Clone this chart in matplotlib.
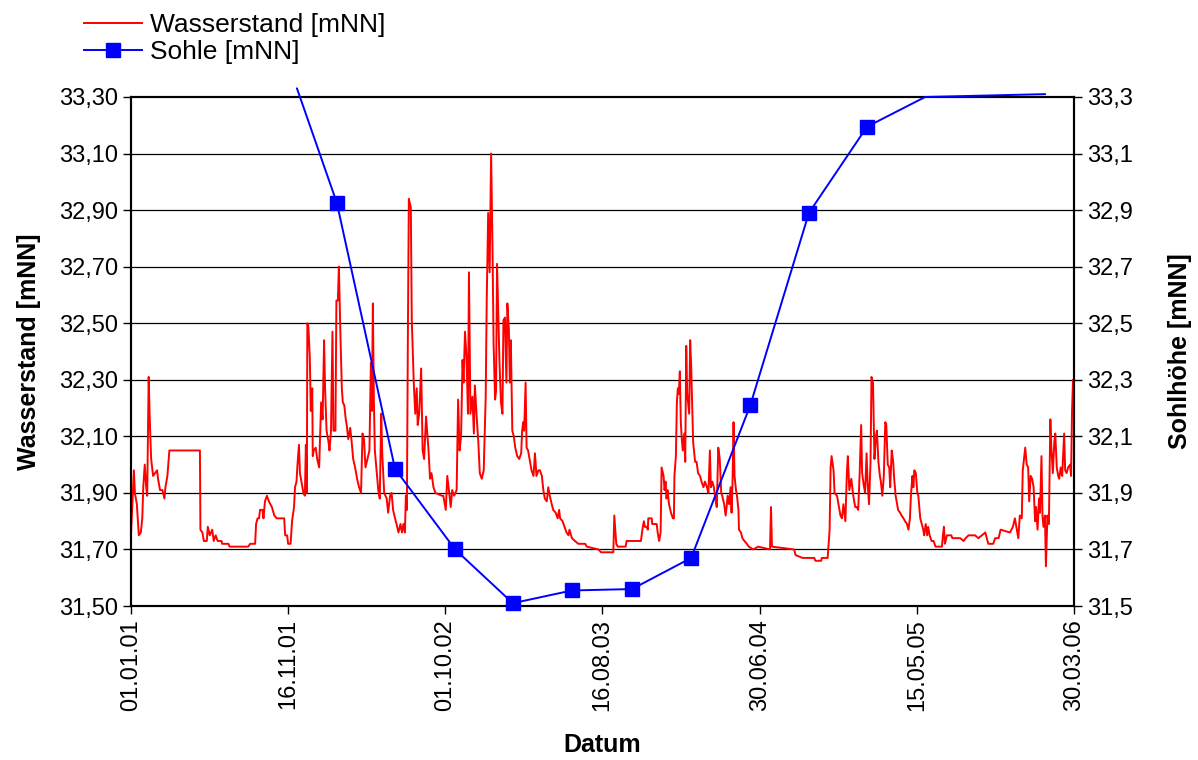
import numpy as np
import pandas as pd
import matplotlib.pyplot as plt
from matplotlib.ticker import FuncFormatter
import matplotlib.dates as mdates
plt.switch_backend('agg')

plt.rcParams['font.family'] = ['Liberation Sans', 'DejaVu Sans']

# Tage ab 01.01.2001
start = pd.Timestamp('2001-01-01')
ende = pd.Timestamp('2006-03-30')

# Wasserstand [mNN]
tage = [0, 6, 8, 12, 16, 20, 23, 25, 28, 31, 33, 36, 38, 41, 45, 49, 53, 55, 59, 64,
        68, 70, 74, 78, 140, 141, 145, 148, 154, 156, 160, 165, 168, 172, 176, 184, 185, 198, 200, 238,
        242, 252, 254, 257, 260, 262, 267, 269, 272, 276, 280, 286, 291, 296, 311, 313, 317, 319, 324, 327,
        331, 333, 336, 338, 341, 343, 347, 350, 353, 355, 357, 358, 360, 363, 365, 368, 369, 371, 375, 378,
        382, 386, 389, 392, 394, 397, 401, 403, 406, 409, 411, 415, 417, 420, 422, 425, 428, 430, 433, 436,
        438, 441, 445, 448, 451, 455, 459, 463, 467, 470, 473, 476, 480, 484, 487, 489, 491, 493, 495, 499,
        502, 505, 508, 510, 514, 519, 522, 526, 529, 532, 536, 539, 543, 547, 550, 553, 556, 558, 560, 562,
        564, 568, 570, 574, 577, 580, 582, 585, 589, 592, 595, 599, 604, 607, 610, 614, 618, 631, 634, 639,
        642, 646, 649, 652, 656, 661, 664, 667, 670, 673, 675, 678, 681, 684, 686, 689, 693, 696, 698, 702,
        705, 708, 712, 716, 720, 722, 725, 728, 731, 734, 736, 739, 741, 743, 746, 748, 751, 754, 756, 759,
        762, 764, 767, 769, 771, 774, 777, 780, 784, 788, 792, 794, 796, 798, 801, 803, 806, 810, 813, 817,
        820, 823, 827, 830, 834, 837, 840, 844, 847, 850, 854, 857, 862, 866, 869, 871, 876, 880, 884, 888,
        890, 895, 901, 908, 922, 925, 949, 954, 979, 981, 985, 988, 1004, 1006, 1035, 1038, 1041, 1043, 1047, 1049,
        1050, 1057, 1058, 1067, 1069, 1072, 1075, 1077, 1081, 1083, 1085, 1087, 1089, 1092, 1096, 1100, 1102, 1103, 1106, 1108,
        1110, 1112, 1114, 1116, 1118, 1120, 1123, 1125, 1127, 1129, 1133, 1135, 1137, 1139, 1141, 1145, 1148, 1151, 1155, 1158,
        1162, 1165, 1169, 1172, 1175, 1177, 1180, 1183, 1186, 1189, 1192, 1195, 1198, 1200, 1204, 1207, 1209, 1211, 1214, 1217,
        1219, 1221, 1223, 1225, 1228, 1230, 1233, 1234, 1238, 1241, 1245, 1250, 1254, 1263, 1273, 1297, 1299, 1301, 1346, 1349,
        1363, 1387, 1389, 1401, 1402, 1414, 1418, 1420, 1422, 1426, 1428, 1433, 1436, 1440, 1443, 1446, 1450, 1453, 1455, 1458,
        1462, 1464, 1466, 1470, 1473, 1476, 1479, 1482, 1484, 1487, 1490, 1493, 1495, 1498, 1501, 1503, 1506, 1509, 1512, 1514,
        1517, 1520, 1522, 1525, 1528, 1531, 1533, 1536, 1539, 1541, 1544, 1547, 1549, 1552, 1555, 1557, 1561, 1564, 1568, 1571,
        1575, 1578, 1581, 1583, 1586, 1588, 1590, 1593, 1596, 1598, 1602, 1605, 1608, 1610, 1613, 1616, 1618, 1621, 1625, 1629,
        1633, 1646, 1648, 1650, 1652, 1656, 1665, 1667, 1683, 1690, 1694, 1700, 1713, 1720, 1727, 1734, 1737, 1740, 1750, 1754,
        1761, 1765, 1784, 1790, 1794, 1798, 1801, 1804, 1808, 1810, 1813, 1815, 1818, 1821, 1823, 1826, 1829, 1832, 1835, 1837,
        1840, 1843, 1845, 1848, 1850, 1852, 1855, 1857, 1860, 1863, 1866, 1868, 1871, 1874, 1876, 1879, 1882, 1884, 1887, 1890,
        1894, 1896, 1899, 1902, 1906, 1908, 1910, 1912, 1914]
wasserstand = [31.75, 31.98, 31.90, 31.86, 31.75, 31.76, 31.81, 31.92, 32.00, 31.92, 31.89, 32.31, 32.17, 32.02, 31.96, 31.97, 31.98, 31.95, 31.91, 31.91,
               31.88, 31.92, 31.96, 32.05, 32.05, 31.77, 31.76, 31.73, 31.73, 31.78, 31.75, 31.77, 31.73, 31.75, 31.73, 31.73, 31.72, 31.72, 31.71, 31.71,
               31.72, 31.72, 31.79, 31.81, 31.81, 31.84, 31.84, 31.81, 31.87, 31.89, 31.87, 31.85, 31.82, 31.81, 31.81, 31.75, 31.75, 31.72, 31.72, 31.80,
               31.85, 31.92, 31.94, 32.00, 32.07, 31.97, 31.93, 31.90, 31.89, 32.07, 31.90, 32.50, 32.49, 32.38, 32.19, 32.27, 32.03, 32.05, 32.06, 32.02,
               31.99, 32.22, 32.16, 32.44, 32.27, 32.12, 32.08, 32.05, 32.12, 32.47, 32.12, 32.12, 32.58, 32.58, 32.70, 32.47, 32.27, 32.22, 32.21, 32.16,
               32.14, 32.09, 32.13, 32.08, 32.02, 31.99, 31.95, 31.92, 31.90, 32.11, 32.09, 31.99, 32.02, 32.05, 32.36, 32.19, 32.57, 32.23, 32.05, 31.97,
               31.91, 31.88, 32.18, 32.04, 31.90, 31.88, 31.83, 31.89, 31.90, 31.84, 31.81, 31.79, 31.76, 31.79, 31.76, 31.79, 31.76, 31.89, 31.84, 32.44,
               32.94, 32.91, 32.51, 32.29, 32.18, 32.27, 32.14, 32.18, 32.34, 32.05, 32.02, 32.17, 32.05, 31.95, 31.97, 31.92, 31.90, 31.89, 31.89, 31.84,
               31.96, 31.90, 31.85, 31.91, 31.89, 31.91, 32.23, 32.05, 32.10, 32.37, 32.29, 32.47, 32.38, 32.18, 32.68, 32.18, 32.24, 32.11, 32.28, 32.16,
               32.08, 31.97, 31.95, 31.98, 32.24, 32.57, 32.89, 32.68, 33.10, 32.74, 32.43, 32.23, 32.26, 32.71, 32.50, 32.36, 32.22, 32.18, 32.51, 32.52,
               32.29, 32.57, 32.48, 32.29, 32.44, 32.12, 32.10, 32.06, 32.03, 32.02, 32.04, 32.12, 32.15, 32.12, 32.29, 32.06, 32.05, 32.01, 31.98, 31.96,
               32.04, 31.96, 31.98, 31.98, 31.96, 31.91, 31.88, 31.87, 31.92, 31.89, 31.86, 31.84, 31.83, 31.81, 31.84, 31.81, 31.80, 31.78, 31.76, 31.75,
               31.77, 31.74, 31.73, 31.72, 31.72, 31.71, 31.70, 31.69, 31.69, 31.82, 31.72, 31.71, 31.71, 31.73, 31.73, 31.77, 31.80, 31.78, 31.78, 31.77,
               31.81, 31.81, 31.79, 31.79, 31.76, 31.73, 31.76, 31.99, 31.96, 31.91, 31.94, 31.88, 31.91, 31.86, 31.83, 31.81, 31.81, 31.96, 32.03, 32.22,
               32.27, 32.25, 32.33, 32.15, 32.09, 32.05, 32.11, 32.01, 32.42, 32.25, 32.18, 32.44, 32.35, 32.22, 32.08, 32.01, 32.01, 31.97, 31.96, 31.94,
               31.92, 31.94, 31.92, 31.90, 32.05, 31.92, 31.94, 31.92, 31.88, 31.85, 32.06, 32.02, 31.90, 31.89, 31.86, 31.82, 31.85, 31.89, 31.86, 31.92,
               31.83, 31.94, 32.15, 31.96, 31.91, 31.89, 31.84, 31.77, 31.76, 31.74, 31.73, 31.72, 31.71, 31.70, 31.71, 31.70, 31.85, 31.71, 31.70, 31.68,
               31.67, 31.67, 31.66, 31.66, 31.67, 31.67, 31.77, 31.99, 32.03, 31.98, 31.90, 31.89, 31.86, 31.82, 31.81, 31.86, 31.80, 31.97, 32.03, 31.91,
               31.95, 31.92, 31.89, 31.85, 31.85, 31.84, 31.97, 32.14, 31.97, 31.93, 31.90, 32.04, 31.94, 31.86, 32.01, 32.31, 32.29, 32.02, 32.10, 32.12,
               32.01, 31.96, 31.94, 31.89, 31.96, 32.15, 32.14, 32.00, 31.99, 31.92, 32.05, 32.01, 31.95, 31.89, 31.86, 31.84, 31.83, 31.82, 31.81, 31.80,
               31.79, 31.77, 31.81, 31.89, 31.96, 31.92, 31.98, 31.97, 31.90, 31.89, 31.81, 31.79, 31.77, 31.75, 31.79, 31.75, 31.78, 31.75, 31.73, 31.73,
               31.71, 31.71, 31.75, 31.78, 31.72, 31.75, 31.75, 31.74, 31.74, 31.73, 31.74, 31.75, 31.75, 31.74, 31.75, 31.76, 31.74, 31.72, 31.72, 31.74,
               31.74, 31.77, 31.76, 31.78, 31.81, 31.77, 31.74, 31.82, 31.81, 31.98, 32.03, 32.06, 32.00, 31.99, 31.87, 31.96, 31.95, 31.92, 31.80, 31.85,
               31.77, 31.88, 31.83, 32.03, 31.82, 31.78, 31.82, 31.64, 31.82, 31.79, 32.16, 32.06, 31.97, 32.08, 32.11, 31.99, 31.96, 31.95, 31.99, 31.96,
               32.11, 31.98, 31.97, 31.99, 32.00, 31.96, 32.19, 32.30, 32.20]

# Sohle [mNN]
sohle_tage = [337, 418, 536, 658, 775, 895, 1017, 1137, 1257, 1376, 1494, 1612, 1855]
sohle = [33.33, 32.925, 31.985, 31.70, 31.51, 31.555, 31.56, 31.67, 32.21, 32.89, 33.195, 33.30, 33.31]

datum = start + pd.to_timedelta(tage, unit='D')
sohle_datum = start + pd.to_timedelta(sohle_tage, unit='D')

fig = plt.figure(figsize=(11.98, 7.6), dpi=100)
ax = fig.add_axes([0.1093, 0.2026, 0.7872, 0.6698])
ax2 = ax.twinx()

l1, = ax.plot(datum, wasserstand, color='#FF0000', lw=1.4, label='Wasserstand [mNN]', zorder=3)
l2, = ax2.plot(sohle_datum, sohle, color='#0000FF', lw=1.4, marker='s', markersize=9.5,
               markevery=list(range(1, 11)), label='Sohle [mNN]', clip_on=False, zorder=4)

ymin, ymax = 31.5, 33.3
yt = np.arange(31.5, 33.31, 0.2)
for a in (ax, ax2):
    a.set_ylim(ymin, ymax)
    a.set_yticks(yt)
    a.tick_params(axis='y', direction='out', length=6, width=1, labelsize=17)
ax.yaxis.set_major_formatter(FuncFormatter(lambda v, p: ('%.2f' % v).replace('.', ',')))
ax2.yaxis.set_major_formatter(FuncFormatter(lambda v, p: ('%.1f' % v).replace('.', ',')))

for v in yt[1:-1]:
    ax.axhline(v, color='black', lw=0.9, zorder=1)

ax.set_xlim(start, ende)
xt = pd.date_range(start, ende, freq='319D')
ax.set_xticks(xt)
ax.xaxis.set_major_formatter(mdates.DateFormatter('%d.%m.%y'))
ax.tick_params(axis='x', direction='out', length=6, width=1, labelsize=17, labelrotation=90)

for a in (ax, ax2):
    for s in a.spines.values():
        s.set_linewidth(1.5)
        s.set_color('black')

ax.set_xlabel('Datum', fontsize=18, fontweight='bold', labelpad=16)
ax.set_ylabel('Wasserstand [mNN]', fontsize=18, fontweight='bold', labelpad=13)
ax2.set_ylabel('Sohlhöhe [mNN]', fontsize=18, fontweight='bold', labelpad=25)

fig.legend(handles=[l1, l2], loc='upper left', bbox_to_anchor=(0.066, 0.99), frameon=False,
           fontsize=19, handlelength=2.2, handletextpad=0.3, labelspacing=0.12,
           borderpad=0.2, borderaxespad=0)

plt.savefig('out.png', dpi=100)
